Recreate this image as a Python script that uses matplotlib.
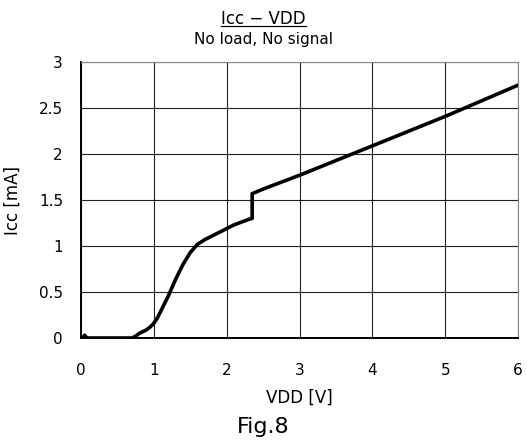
import matplotlib

matplotlib.use("Agg")
import matplotlib.pyplot as plt
from matplotlib.lines import Line2D

# Icc vs VDD, no load, no signal
vdd = [0.0, 0.03, 0.05, 0.08, 0.7, 0.75, 0.8, 0.9, 0.95, 1.0, 1.05, 1.1, 1.2, 1.3, 1.4,
       1.5, 1.6, 1.7, 1.8, 1.9, 2.0, 2.1, 2.2, 2.3, 2.35, 2.35, 2.5, 3.0, 3.5,
       4.0, 4.5, 5.0, 5.5, 6.0]
icc = [0.0, 0.01, 0.03, 0.0, 0.0, 0.02, 0.05, 0.09, 0.12, 0.16, 0.22, 0.3, 0.46, 0.64, 0.8,
       0.93, 1.02, 1.07, 1.11, 1.15, 1.19, 1.23, 1.26, 1.29, 1.3, 1.57, 1.62, 1.77, 1.93,
       2.09, 2.25, 2.41, 2.58, 2.75]

x_ticks = [0, 1, 2, 3, 4, 5, 6]
y_ticks = [0, 0.5, 1, 1.5, 2, 2.5, 3]
y_labels = ["0", "0.5", "1", "1.5", "2", "2.5", "3"]

fig = plt.figure(figsize=(5.27, 4.44), dpi=100)
ax = fig.add_axes([0.1537, 0.2387, 0.8293, 0.6213])

ax.plot(vdd, icc, color="black", lw=2.6, solid_joinstyle="round", zorder=3)

ax.set_xlim(0, 6)
ax.set_ylim(0, 3)
ax.set_xticks(x_ticks)
ax.set_yticks(y_ticks, y_labels)
ax.grid(True, color="#222222", lw=0.8)
ax.tick_params(axis="x", length=0, pad=18, labelsize=11)
ax.tick_params(axis="y", length=0, pad=13, labelsize=11)
for side in ("top", "right"):
    ax.spines[side].set_color("#888888")
for side in ("left", "bottom"):
    ax.spines[side].set_color("black")
    ax.spines[side].set_linewidth(1.4)

ax.set_xlabel("VDD [V]", fontsize=12, labelpad=8)
ax.set_ylabel("Icc [mA]", fontsize=12, labelpad=12)

title = fig.text(0.5, 0.947, "Icc − VDD", ha="center", va="baseline", fontsize=12)
fig.text(0.5, 0.91, "No load, No signal", ha="center", va="center", fontsize=11)
fig.text(0.5, 0.038, "Fig.8", ha="center", va="center", fontsize=16)

# underline the title just below its baseline
fig.canvas.draw()
bb = title.get_window_extent().transformed(fig.transFigure.inverted())
y_ul = 0.947 - 0.006
fig.add_artist(Line2D([bb.x0, bb.x1], [y_ul, y_ul],
                      color="black", lw=0.9, transform=fig.transFigure))

fig.savefig("out.png", dpi=100)
